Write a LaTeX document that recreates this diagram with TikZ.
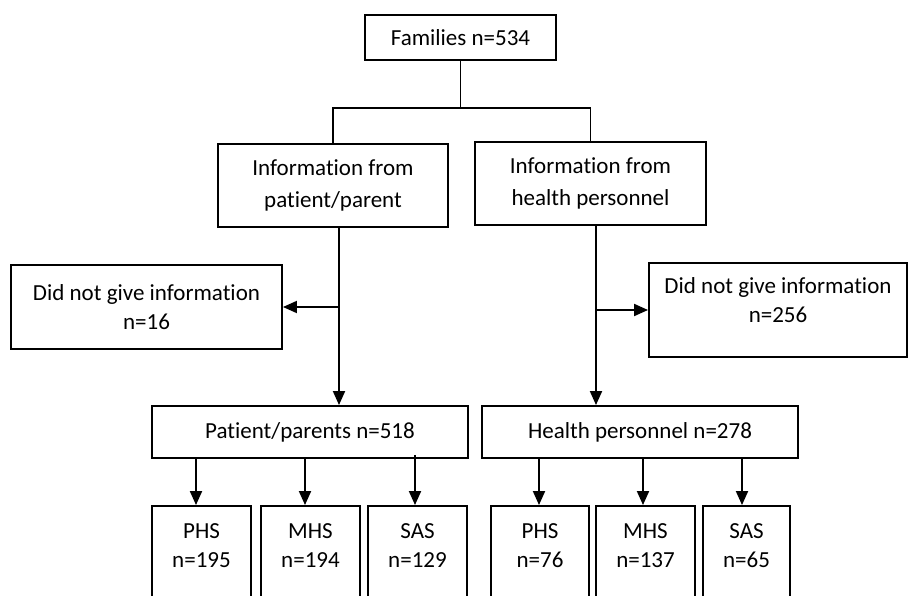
\documentclass[tikz,border=0pt]{standalone}
\usepackage{fontspec}
\setmainfont{Carlito}[Ligatures=NoCommon]
\usetikzlibrary{arrows.meta}
\begin{document}
\begin{tikzpicture}[x=1pt,y=-1pt,
  box/.style={draw, line width=1.9pt, rectangle, inner sep=0pt, align=center},
  txt/.style={inner sep=0pt, align=center},
  conn/.style={line width=1.9pt},
  arr/.style={line width=1.9pt, -{Triangle[length=14pt,width=12pt]}},
  font=\fontsize{23}{29}\selectfont]
\clip (0,0) rectangle (908,596);
\fill[white] (0,0) rectangle (908,596);
% top
\node[box, minimum width=191pt, minimum height=45pt] (fam) at (460.5,37.5) {Families n=534};
\node[box, minimum width=230pt, minimum height=83pt, font=\fontsize{23}{32}\selectfont] (ipp) at (333,185.5) {Information from\\patient/parent};
\node[box, minimum width=231pt, minimum height=83pt, font=\fontsize{23}{32}\selectfont] (ihp) at (590.5,183.5) {Information from\\health personnel};
\coordinate (j) at (460.5,108);
\draw[conn] (fam.south) -- (j);
\draw[conn] (ipp.north) |- (j) -| (ihp.north);
% did not give
\node[box, minimum width=271pt, minimum height=84pt] (dl) at (146.5,307) {Did not give information\\n=16};
\node[box, minimum width=258pt, minimum height=94pt] (dr) at (778,310) {};
\node[txt] (drt) at (778,300.5) {Did not give information\\n=256};
% group boxes
\node[box, minimum width=316pt, minimum height=52pt] (pp) at (310,432) {Patient/parents n=518};
\node[box, minimum width=316pt, minimum height=52pt] (hp) at (640,432) {Health personnel n=278};
% vertical flows
\coordinate (la) at ([xshift=6pt]ipp.south);
\coordinate (ra) at ([xshift=5.5pt]ihp.south);
\draw[arr] (la) -- (la |- pp.north);
\draw[arr] (la |- dl.east) -- (dl.east);
\draw[arr] (ra) -- (ra |- hp.north);
\draw[arr] (ra |- dr.west) -- (dr.west);
% bottom boxes (open at the bottom edge)
\node[box, minimum width=99pt, minimum height=134pt] (b1) at (201.5,573) {};
\node[box, minimum width=99pt, minimum height=134pt] (b2) at (310.5,573) {};
\node[box, minimum width=99pt, minimum height=134pt] (b3) at (417.5,573) {};
\node[box, minimum width=98pt, minimum height=134pt] (c1) at (540,573) {};
\node[box, minimum width=99pt, minimum height=134pt] (c2) at (645.5,573) {};
\node[box, minimum width=87pt, minimum height=134pt] (c3) at (746.5,573) {};
\node[txt] (b1t) at (201.5,546) {PHS\\n=195};
\node[txt] (b2t) at (310.5,546) {MHS\\n=194};
\node[txt] (b3t) at (417.5,546) {SAS\\n=129};
\node[txt] (c1t) at (540,546) {PHS\\n=76};
\node[txt] (c2t) at (645.5,546) {MHS\\n=137};
\node[txt] (c3t) at (746.5,546) {SAS\\n=65};
% arrows to bottom boxes
\coordinate (p1) at ([xshift=-5.5pt]b1.north);
\coordinate (p2) at ([xshift=-5.5pt]b2.north);
\coordinate (p3) at ([xshift=-2.5pt]b3.north);
\coordinate (q1) at ([xshift=-1pt]c1.north);
\coordinate (q2) at ([xshift=-2.5pt]c2.north);
\coordinate (q3) at ([xshift=-4.5pt]c3.north);
\draw[arr] (p1 |- pp.south) -- (p1);
\draw[arr] (p2 |- pp.south) -- (p2);
\draw[arr] ([yshift=4pt]p3 |- pp.south) -- (p3);
\draw[arr] (q1 |- hp.south) -- (q1);
\draw[arr] (q2 |- hp.south) -- (q2);
\draw[arr] (q3 |- hp.south) -- (q3);
\end{tikzpicture}
\end{document}
